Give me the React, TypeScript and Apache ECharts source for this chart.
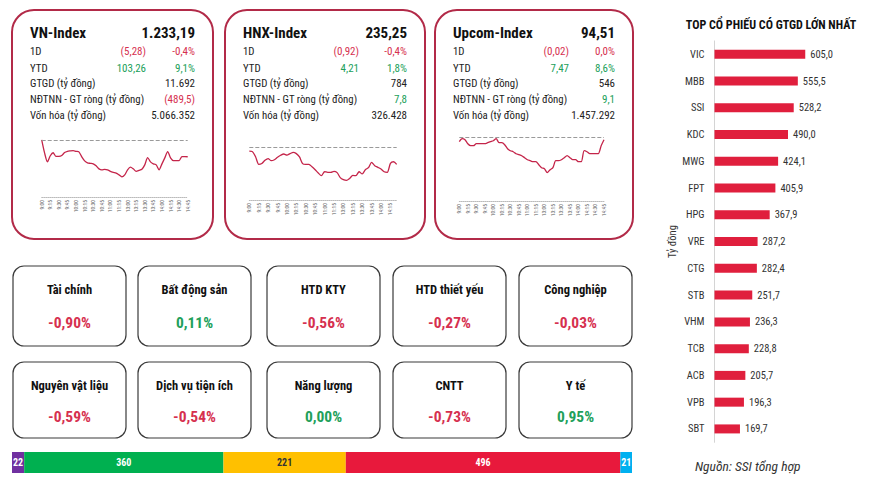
import React, { useEffect, useRef } from "react";
import * as echarts from "echarts";

// ---------- Data ----------
const indexNames = ["VN-Index", "HNX-Index", "Upcom-Index"];
const indexLevels = ["1.233,19", "235,25", "94,51"];
const rowLabels = ["1D", "YTD", "GTGD (tỷ đồng)", "NĐTNN - GT ròng (tỷ đồng)", "Vốn hóa (tỷ đồng)"];
const change1D = ["(5,28)", "(0,92)", "(0,02)"];
const pct1D = ["-0,4%", "-0,4%", "0,0%"];
const changeYTD = ["103,26", "4,21", "7,47"];
const pctYTD = ["9,1%", "1,8%", "8,6%"];
const turnover = ["11.692", "784", "546"];
const foreignNet = ["(489,5)", "7,8", "9,1"];
const marketCap = ["5.066.352", "326.428", "1.457.292"];

const sessionTimes = [
  "9:00", "9:05", "9:10", "9:15", "9:20", "9:25", "9:30", "9:35", "9:40", "9:45",
  "9:50", "9:55", "10:00", "10:05", "10:10", "10:15", "10:20", "10:25", "10:30", "10:35",
  "10:40", "10:45", "10:50", "10:55", "11:00", "11:05", "11:10", "11:15", "11:20", "11:25",
  "13:00", "13:05", "13:10", "13:15", "13:20", "13:25", "13:30", "13:35", "13:40", "13:45",
  "13:50", "13:55", "14:00", "14:05", "14:10", "14:15", "14:20", "14:25", "14:30", "14:35",
  "14:40", "14:45",
];
const hnxTimes = sessionTimes.slice(0, 48);

const prevClose = [1238.47, 236.17, 94.53];

const vnIntraday = [
  1238.47, 1234.4, 1231.6, 1233.5, 1234.45, 1233.31, 1233.31, 1233.56, 1234.5, 1234.88,
  1235.03, 1235.13, 1234.88, 1234.72, 1233.16, 1231.91, 1231.28, 1231.13, 1230.97, 1230.35,
  1229.41, 1229.1, 1229.25, 1229.1, 1228.63, 1228.31, 1228.06, 1227.53, 1226.91, 1227.53,
  1229.1, 1229.94, 1229.41, 1228.63, 1228.94, 1229.31, 1230.66, 1232.94, 1231.6, 1230.97,
  1230.66, 1229.1, 1230.97, 1232.85, 1234.81, 1232.85, 1232.0, 1232.0, 1232.0, 1233.25,
  1233.25, 1233.19,
];
const hnxIntraday = [
  235.97, 235.94, 235.66, 235.25, 235.3, 235.47, 235.56, 235.45, 235.5, 235.63,
  235.74, 235.81, 235.75, 235.83, 235.9, 235.83, 235.65, 235.29, 235.25, 235.25,
  235.12, 234.96, 234.78, 234.64, 234.85, 234.82, 234.82, 234.87, 234.8, 234.53,
  234.42, 234.38, 234.49, 234.65, 234.64, 234.85, 234.73, 234.96, 235.07, 235.36,
  235.18, 235.09, 235.0, 234.85, 234.82, 235.3, 235.39, 235.25,
];
const upcomIntraday = [
  94.49, 94.52, 94.51, 94.47, 94.45, 94.45, 94.47, 94.47, 94.47, 94.47,
  94.48, 94.49, 94.5, 94.52, 94.48, 94.48, 94.46, 94.42, 94.4, 94.39,
  94.37, 94.36, 94.35, 94.33, 94.31, 94.3, 94.29, 94.29, 94.26, 94.23,
  94.22, 94.18, 94.21, 94.23, 94.3, 94.3, 94.31, 94.33, 94.35, 94.33,
  94.31, 94.31, 94.29, 94.29, 94.4, 94.39, 94.37, 94.37, 94.37, 94.37,
  94.45, 94.51,
];

const sectorNames = [
  "Tài chính", "Bất động sản", "HTD KTY", "HTD thiết yếu", "Công nghiệp",
  "Nguyên vật liệu", "Dịch vụ tiện ích", "Năng lượng", "CNTT", "Y tế",
];
const sectorChanges = [-0.9, 0.11, -0.56, -0.27, -0.03, -0.59, -0.54, 0.0, -0.73, 0.95];

const breadthNames = ["Trần", "Tăng", "Đứng giá", "Giảm", "Sàn"];
const breadthValues = [22, 360, 221, 496, 21];

const topTickers = ["VIC", "MBB", "SSI", "KDC", "MWG", "FPT", "HPG", "VRE", "CTG", "STB", "VHM", "TCB", "ACB", "VPB", "SBT"];
const topValues = [605.0, 555.5, 528.2, 490.0, 424.1, 405.9, 367.9, 287.2, 282.4, 251.7, 236.3, 228.8, 205.7, 196.3, 169.7];

// ---------- Styles ----------
const NARROW = "'Liberation Sans Narrow', 'Arial Narrow', 'Roboto Condensed', 'DejaVu Sans Condensed', sans-serif";
const RED = "#d6304f";
const GREEN = "#21a05a";
const CARD_BORDER = "#b22a48";
const LINE_RED = "#c4254a";
const breadthColors = ["#7030a0", "#00b050", "#ffc000", "#e8193c", "#00b0f0"];
const breadthLabelColors = ["#fff", "#fff", "#333", "#fff", "#fff"];

const fmt = (v: number, d: number) => v.toFixed(d).replace(".", ",");
const isNeg = (s: string) => s.startsWith("(") || s.startsWith("-");

function txt(x: number, y: number, text: string, o: any = {}) {
  return {
    type: "text",
    x,
    y,
    silent: true,
    style: {
      text,
      fill: o.fill || "#222",
      fontSize: o.fontSize || 10,
      fontWeight: o.fontWeight || "normal",
      fontStyle: o.fontStyle || "normal",
      fontFamily: o.fontFamily || NARROW,
      align: o.align || "left",
      textAlign: o.align || "left",
      verticalAlign: "middle",
      textVerticalAlign: "middle",
    },
  };
}

function buildGraphics() {
  const els: any[] = [];
  const cardLeft = [12, 225, 435];
  const cardWidth = [201, 200, 198];
  const rowY = [51, 68, 83.5, 99, 115];
  for (let i = 0; i < 3; i++) {
    const L = cardLeft[i];
    const R = L + cardWidth[i];
    els.push({
      type: "rect",
      shape: { x: L, y: 10, width: cardWidth[i], height: 229, r: 22 },
      style: { fill: "transparent", stroke: CARD_BORDER, lineWidth: 2 },
      silent: true,
    });
    const right = R - 18;
    const mid = L + 134;
    els.push(txt(L + 18, 33, indexNames[i], { fontSize: 15, fontWeight: "bold", fill: "#111" }));
    els.push(txt(right, 33, indexLevels[i], { fontSize: 15, fontWeight: "bold", fill: "#111", align: "right" }));
    rowLabels.forEach((lab, r) => els.push(txt(L + 18, rowY[r], lab, { fontSize: 10.8 })));
    const c1 = isNeg(change1D[i]) ? RED : GREEN;
    els.push(txt(mid, rowY[0], change1D[i], { fontSize: 11, fill: c1, align: "right" }));
    els.push(txt(right, rowY[0], pct1D[i], { fontSize: 11, fill: c1, align: "right" }));
    const c2 = isNeg(changeYTD[i]) ? RED : GREEN;
    els.push(txt(mid, rowY[1], changeYTD[i], { fontSize: 11, fill: c2, align: "right" }));
    els.push(txt(right, rowY[1], pctYTD[i], { fontSize: 11, fill: c2, align: "right" }));
    els.push(txt(right, rowY[2], turnover[i], { fontSize: 11, align: "right" }));
    els.push(txt(right, rowY[3], foreignNet[i], { fontSize: 11, fill: isNeg(foreignNet[i]) ? RED : GREEN, align: "right" }));
    els.push(txt(right, rowY[4], marketCap[i], { fontSize: 11, align: "right" }));
  }

  const tileX = [13, 138, 267, 393, 519];
  const tileY = [266, 362];
  const tileH = [80, 76];
  const tileW = 113;
  sectorNames.forEach((name, k) => {
    const row = Math.floor(k / 5);
    const col = k % 5;
    const x = tileX[col];
    const y = tileY[row];
    els.push({
      type: "rect",
      shape: { x, y, width: tileW, height: tileH[row], r: 11 },
      style: { fill: "transparent", stroke: "#3a3a3a", lineWidth: 1.2 },
      silent: true,
    });
    const v = sectorChanges[k];
    els.push(txt(x + tileW / 2, y + 23, name, { fontSize: 12.5, fontWeight: "bold", fill: "#111", align: "center" }));
    els.push(
      txt(x + tileW / 2, y + 57 - row * 2, fmt(v, 2) + "%", {
        fontSize: 15.5,
        fontWeight: "bold",
        fill: v < 0 ? RED : GREEN,
        align: "center",
      })
    );
  });

  els.push(txt(771, 25, "TOP CỔ PHIẾU CÓ GTGD LỚN NHẤT", { fontSize: 12, fontWeight: "bold", fill: "#111", align: "center" }));
  els.push(txt(695, 466, "Nguồn: SSI tổng hợp", { fontSize: 13.5, fontStyle: "italic", fill: "#333" }));
  return els;
}

function miniAxes(gridIndex: number, data: string[], min: number, max: number) {
  return {
    x: {
      gridIndex,
      type: "category",
      data,
      boundaryGap: false,
      axisLine: { show: true, lineStyle: { color: "#bbb", type: "dotted", width: 1 } },
      axisTick: { show: false },
      axisLabel: { interval: 2, rotate: 90, fontSize: 5.5, color: "#555", margin: 3, fontFamily: NARROW },
      splitLine: { show: false },
    },
    y: { gridIndex, type: "value", min, max, show: false, splitLine: { show: false } },
  };
}

function miniSeries(idx: number, data: number[], prev: number) {
  return {
    type: "line",
    xAxisIndex: idx,
    yAxisIndex: idx,
    data,
    showSymbol: false,
    smooth: 0.25,
    lineStyle: { color: LINE_RED, width: 1.3 },
    markLine: {
      silent: true,
      symbol: ["none", "none"],
      label: { show: false },
      lineStyle: { color: "#9a9a9a", type: "dashed", width: 1 },
      data: [{ yAxis: prev }],
    },
  };
}

export default function App() {
  const ref = useRef<HTMLDivElement>(null);
  useEffect(() => {
    if (!ref.current) return;
    const chart = echarts.init(ref.current, undefined, { renderer: "svg" });
    const vn = miniAxes(0, sessionTimes, 1220.6, 1240.0);
    const hnx = miniAxes(1, hnxTimes, 233.32, 236.46);
    const up = miniAxes(2, sessionTimes, 93.897, 94.577);
    const breadthTotal = breadthValues.reduce((a, b) => a + b, 0);

    const option: any = {
      animation: false,
      backgroundColor: "#fff",
      graphic: { elements: buildGraphics() },
      grid: [
        { left: 41.7, top: 135, width: 146, height: 62 },
        { left: 249.3, top: 142, width: 147.4, height: 58 },
        { left: 459.3, top: 133, width: 144.7, height: 68 },
        { left: 714.5, top: 40.9, width: 150, height: 401.4 },
        { left: 12, top: 452, width: 620, height: 21 },
      ],
      xAxis: [
        vn.x,
        hnx.x,
        up.x,
        { gridIndex: 3, type: "value", min: 0, max: 1000, show: false, splitLine: { show: false } },
        { gridIndex: 4, type: "value", min: 0, max: breadthTotal, show: false, splitLine: { show: false } },
      ],
      yAxis: [
        vn.y,
        hnx.y,
        up.y,
        {
          gridIndex: 3,
          type: "category",
          data: topTickers,
          inverse: true,
          axisLine: { show: true, lineStyle: { color: "#d4d4d4", width: 1 } },
          axisTick: { show: false },
          axisLabel: { color: "#333", fontSize: 10.5, margin: 10, fontFamily: NARROW },
          name: "Tỷ đồng",
          nameLocation: "middle",
          nameRotate: 90,
          nameGap: 37,
          nameTextStyle: { color: "#333", fontSize: 10.5, fontFamily: NARROW },
        },
        { gridIndex: 4, type: "category", data: ["Độ rộng"], show: false },
      ],
      series: [
        miniSeries(0, vnIntraday, prevClose[0]),
        miniSeries(1, hnxIntraday, prevClose[1]),
        miniSeries(2, upcomIntraday, prevClose[2]),
        {
          type: "bar",
          xAxisIndex: 3,
          yAxisIndex: 3,
          data: topValues,
          barWidth: 9,
          itemStyle: { color: "#e01f3d" },
          label: {
            show: true,
            position: "right",
            distance: 5,
            color: "#333",
            fontSize: 10.5,
            fontFamily: NARROW,
            formatter: (p: any) => fmt(p.value, 1),
          },
        },
        ...breadthValues.map((v, i) => ({
          type: "bar",
          name: breadthNames[i],
          stack: "breadth",
          xAxisIndex: 4,
          yAxisIndex: 4,
          barWidth: 21,
          data: [v],
          itemStyle: { color: breadthColors[i] },
          label: {
            show: true,
            position: "inside",
            color: breadthLabelColors[i],
            fontSize: 10,
            fontWeight: "bold",
            fontFamily: NARROW,
          },
        })),
      ],
    };
    chart.setOption(option);
    return () => chart.dispose();
  }, []);
  return (
    <div
      ref={ref}
      style={{ position: "absolute", left: 0, top: 0, width: 876, height: 486, background: "#fff" }}
    />
  );
}
